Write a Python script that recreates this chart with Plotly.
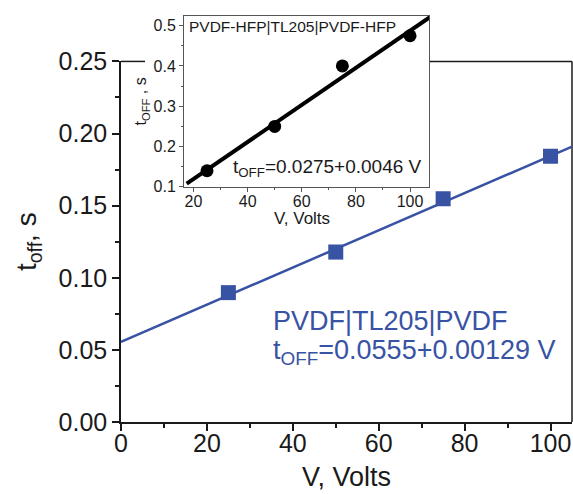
import plotly.graph_objects as go

# Main data
main_v = [25, 50, 75, 100]
main_t = [0.0897, 0.1178, 0.1548, 0.1842]
main_fit_intercept = 0.0555
main_fit_slope = 0.00129
main_fit_x = [0, 105]

# Inset data
inset_v = [25, 50, 75, 100]
inset_t = [0.14, 0.25, 0.40, 0.475]
inset_fit_intercept = 0.0275
inset_fit_slope = 0.0046
inset_fit_x = [17.5, 110]

main_x_ticks = [0, 20, 40, 60, 80, 100]
main_y_ticks = [0.00, 0.05, 0.10, 0.15, 0.20, 0.25]
inset_x_ticks = [20, 40, 60, 80, 100]
inset_y_ticks = [0.1, 0.2, 0.3, 0.4, 0.5]

BLUE = "#3953a4"
INK = "#1a1a1a"
FONT = "Liberation Sans, Arial, sans-serif"

W, H = 573, 494
ML, MR, MT, MB = 121, 1, 10, 72
PW, PH = W - ML - MR, H - MT - MB
def px(x):
    return (x - ML) / PW
def py(y):
    return (H - MB - y) / PH

main_top = py(57)

fig = go.Figure()
fig.add_trace(go.Scatter(
    x=main_fit_x, y=[main_fit_intercept + main_fit_slope * v for v in main_fit_x],
    mode="lines", line=dict(color=BLUE, width=2.5), showlegend=False,
    xaxis="x", yaxis="y"))
fig.add_trace(go.Scatter(
    x=main_v, y=main_t, mode="markers",
    marker=dict(symbol="square", size=15, color=BLUE), showlegend=False,
    xaxis="x", yaxis="y"))
fig.add_trace(go.Scatter(
    x=inset_fit_x, y=[inset_fit_intercept + inset_fit_slope * v for v in inset_fit_x],
    mode="lines", line=dict(color="black", width=4), showlegend=False,
    xaxis="x2", yaxis="y2"))
fig.add_trace(go.Scatter(
    x=inset_v, y=inset_t, mode="markers",
    marker=dict(symbol="circle", size=13, color="black"), showlegend=False,
    xaxis="x2", yaxis="y2"))

fig.update_layout(
    width=W, height=H,
    margin=dict(l=ML, r=MR, t=MT, b=MB),
    paper_bgcolor="white", plot_bgcolor="white",
    font=dict(family=FONT, color=INK),
    xaxis=dict(domain=[0, 1], range=[0, 105], tickvals=main_x_ticks,
               showline=True, linecolor=INK, linewidth=1.5,
               ticks="outside", ticklen=7, tickwidth=1.5, tickcolor=INK,
               minor=dict(dtick=10, tick0=0, ticks="outside", ticklen=4, tickwidth=1.5, tickcolor=INK),
               showgrid=False, zeroline=False,
               tickfont=dict(size=25), ticklabelstandoff=-9,
               anchor="y"),
    yaxis=dict(domain=[0, main_top], range=[0, 0.25], tickvals=main_y_ticks,
               tickformat=".2f",
               showline=True, linecolor=INK, linewidth=1.5,
               ticks="outside", ticklen=7, tickwidth=1.5, tickcolor=INK,
               minor=dict(dtick=0.025, tick0=0, ticks="outside", ticklen=4, tickwidth=1.5, tickcolor=INK),
               showgrid=False, zeroline=False,
               tickfont=dict(size=25),
               title=dict(text="t<sub>off</sub>, s", font=dict(size=28), standoff=14),
               anchor="x"),
    xaxis2=dict(domain=[px(184), px(429)], range=[16.5, 107], tickvals=inset_x_ticks,
                showline=True, mirror=True, linecolor="#555", linewidth=1,
                ticks="outside", ticklen=4, tickcolor="#555",
                minor=dict(dtick=10, tick0=0, ticks="outside", ticklen=2, tickcolor="#555"),
                showgrid=False, zeroline=False,
                tickfont=dict(size=16), ticklabelstandoff=-4,
                anchor="y2"),
    yaxis2=dict(domain=[py(184), py(11)], range=[0.1, 0.524], tickvals=inset_y_ticks,
                tickformat=".1f",
                showline=True, mirror=True, linecolor="#555", linewidth=1,
                ticks="outside", ticklen=4, tickcolor="#555",
                minor=dict(dtick=0.05, tick0=0, ticks="outside", ticklen=2, tickcolor="#555"),
                showgrid=False, zeroline=False,
                tickfont=dict(size=16),
                title=dict(text="t<sub>OFF</sub> , s", font=dict(size=16), standoff=2),
                anchor="x2"),
    shapes=[
        dict(type="line", xref="paper", yref="paper", x0=0, x1=px(145), y0=main_top, y1=main_top,
             line=dict(color=INK, width=1.5), layer="below"),
        dict(type="line", xref="paper", yref="paper", x0=px(430), x1=1, y0=main_top, y1=main_top,
             line=dict(color=INK, width=1.5), layer="below"),
        dict(type="line", xref="paper", yref="paper", x0=1, x1=1, y0=0, y1=main_top,
             line=dict(color=INK, width=1.5), layer="below"),
    ],
    annotations=[
        dict(xref="paper", yref="paper", x=px(346), y=py(478), xanchor="center", yanchor="middle",
             text="V, Volts", showarrow=False, font=dict(size=27, color=INK)),
        dict(xref="paper", yref="paper", x=px(302), y=py(216), xanchor="center", yanchor="middle",
             text="V, Volts", showarrow=False, font=dict(size=17, color=INK)),
        dict(xref="paper", yref="paper", x=px(271), y=py(320), xanchor="left", yanchor="middle",
             text="PVDF|TL205|PVDF", showarrow=False, font=dict(size=27, color=BLUE)),
        dict(xref="paper", yref="paper", x=px(271), y=py(351), xanchor="left", yanchor="middle",
             text="t<sub>OFF</sub>=0.0555+0.00129 V", showarrow=False, font=dict(size=27, color=BLUE)),
        dict(xref="paper", yref="paper", x=px(187), y=py(22), xanchor="left", yanchor="middle",
             text="PVDF-HFP|TL205|PVDF-HFP", showarrow=False, font=dict(size=15.5, color=INK)),
        dict(xref="paper", yref="paper", x=px(231), y=py(165), xanchor="left", yanchor="middle",
             text="t<sub>OFF</sub>=0.0275+0.0046 V", showarrow=False, font=dict(size=19, color=INK)),
    ],
)

fig.write_html("out.html")
